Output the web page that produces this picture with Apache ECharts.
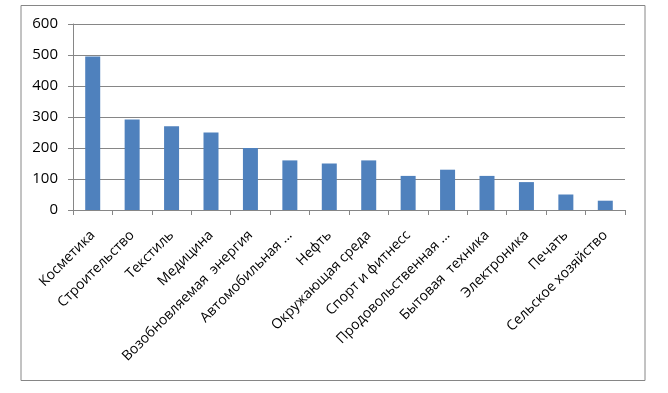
<!DOCTYPE html>
<html><head><meta charset="utf-8">
<script src="https://cdn.jsdelivr.net/npm/echarts@6/dist/echarts.min.js"></script>
<style>html,body{margin:0;padding:0;background:#fff}#c{width:668px;height:393px}</style>
</head><body><div id="c"></div>
<script>
const categories = ['Косметика','Строительство','Текстиль','Медицина','Возобновляемая  энергия','Автомобильная ...','Нефть','Окружающая среда','Спорт и фитнесс','Продовольственная ...','Бытовая  техника','Электроника','Печать','Сельское хозяйство'];
const values = [495, 292, 270, 250, 200, 160, 150, 160, 110, 130, 110, 90, 50, 30];
const yTicks = [0, 100, 200, 300, 400, 500, 600];

const chart = echarts.init(document.getElementById('c'), null, {renderer:'canvas'});
chart.setOption({
  animation:false,
  backgroundColor:'#fff',
  graphic:[{type:'rect',shape:{x:21,y:5.5,width:624,height:375},style:{fill:'none',stroke:'#868686',lineWidth:1}}],
  grid:{left:73,right:43,top:24,bottom:183,containLabel:false},
  xAxis:{type:'category',data:categories,boundaryGap:true,
    axisLine:{lineStyle:{color:'#868686'}},
    axisTick:{show:true,alignWithLabel:false,length:5,lineStyle:{color:'#868686'}},
    axisLabel:{rotate:45,interval:0,margin:23,color:'#000',fontFamily:'Open Sans',fontSize:14}},
  yAxis:{type:'value',min:yTicks[0],max:yTicks[yTicks.length-1],interval:100,
    axisLine:{show:true,lineStyle:{color:'#868686'}},
    axisTick:{show:true,length:5,lineStyle:{color:'#868686'}},
    splitLine:{lineStyle:{color:'#868686'}},
    axisLabel:{color:'#000',fontFamily:'Open Sans',fontSize:15,margin:15}},
  series:[{type:'bar',data:values,barWidth:15,itemStyle:{color:'#4F81BD'}}]
});
</script></body></html>
